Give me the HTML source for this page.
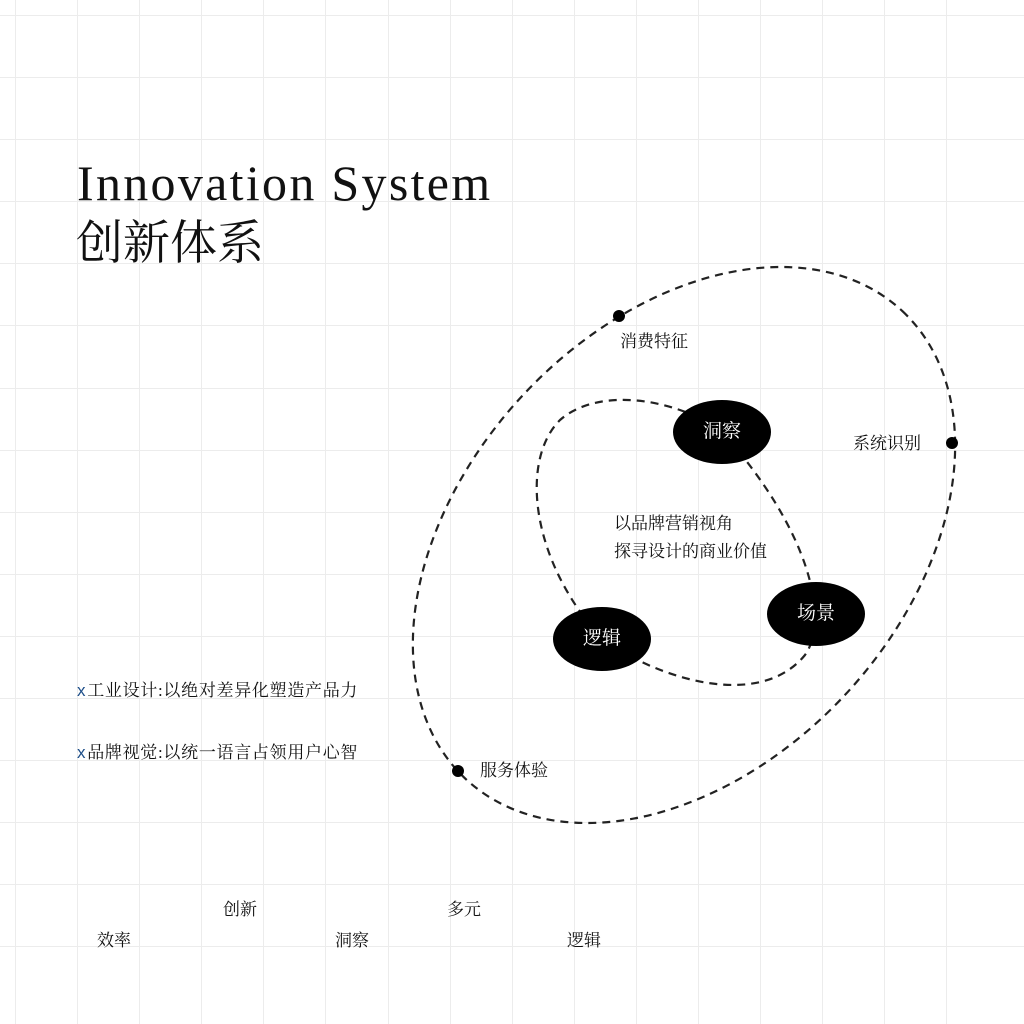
<!DOCTYPE html>
<html><head><meta charset="utf-8"><style>
html,body{margin:0;padding:0;background:#fff;}
body{width:1024px;height:1024px;position:relative;overflow:hidden;font-family:"Liberation Serif","Noto Serif CJK SC",serif;color:#111;}
.t{position:absolute;white-space:nowrap;font-size:17px;line-height:1;}
</style></head><body>
<svg width="1024" height="1024" style="position:absolute;left:0;top:0">
<g stroke="#ececec" stroke-width="1">
<line x1="15.5" y1="0" x2="15.5" y2="1024"/><line x1="77.5" y1="0" x2="77.5" y2="1024"/><line x1="139.5" y1="0" x2="139.5" y2="1024"/><line x1="201.5" y1="0" x2="201.5" y2="1024"/><line x1="263.5" y1="0" x2="263.5" y2="1024"/><line x1="325.5" y1="0" x2="325.5" y2="1024"/><line x1="388.5" y1="0" x2="388.5" y2="1024"/><line x1="450.5" y1="0" x2="450.5" y2="1024"/><line x1="512.5" y1="0" x2="512.5" y2="1024"/><line x1="574.5" y1="0" x2="574.5" y2="1024"/><line x1="636.5" y1="0" x2="636.5" y2="1024"/><line x1="698.5" y1="0" x2="698.5" y2="1024"/><line x1="760.5" y1="0" x2="760.5" y2="1024"/><line x1="822.5" y1="0" x2="822.5" y2="1024"/><line x1="884.5" y1="0" x2="884.5" y2="1024"/><line x1="946.5" y1="0" x2="946.5" y2="1024"/>
<line y1="15.5" x1="0" y2="15.5" x2="1024"/><line y1="77.5" x1="0" y2="77.5" x2="1024"/><line y1="139.5" x1="0" y2="139.5" x2="1024"/><line y1="201.5" x1="0" y2="201.5" x2="1024"/><line y1="263.5" x1="0" y2="263.5" x2="1024"/><line y1="325.5" x1="0" y2="325.5" x2="1024"/><line y1="388.5" x1="0" y2="388.5" x2="1024"/><line y1="450.5" x1="0" y2="450.5" x2="1024"/><line y1="512.5" x1="0" y2="512.5" x2="1024"/><line y1="574.5" x1="0" y2="574.5" x2="1024"/><line y1="636.5" x1="0" y2="636.5" x2="1024"/><line y1="698.5" x1="0" y2="698.5" x2="1024"/><line y1="760.5" x1="0" y2="760.5" x2="1024"/><line y1="822.5" x1="0" y2="822.5" x2="1024"/><line y1="884.5" x1="0" y2="884.5" x2="1024"/><line y1="946.5" x1="0" y2="946.5" x2="1024"/>
</g>
<ellipse cx="684" cy="545" rx="320" ry="220" transform="rotate(-47 684 545)" fill="none" stroke="#222" stroke-width="2.2" stroke-dasharray="8 6"/>
<path d="M 722 432 C 680 400, 600 385, 560 420 C 520 460, 530 560, 602 639 C 660 680, 760 710, 805 655 C 830 620, 810 530, 722 432 Z" fill="none" stroke="#222" stroke-width="2.2" stroke-dasharray="8 6"/>
<ellipse cx="722" cy="432" rx="49" ry="32" fill="#000"/>
<ellipse cx="816" cy="614" rx="49" ry="32" fill="#000"/>
<ellipse cx="602" cy="639" rx="49" ry="32" fill="#000"/>
<circle cx="619" cy="316" r="6" fill="#000"/><circle cx="952" cy="443" r="6" fill="#000"/><circle cx="458" cy="771" r="6" fill="#000"/>
</svg>
<div class="t" style="left:77px;top:158px;font-size:50px;letter-spacing:2.3px;">Innovation System</div>
<div class="t" style="left:76px;top:221px;font-size:47px;">创新体系</div>
<div class="t" style="left:703px;top:422px;color:#fff;font-size:19px;">洞察</div>
<div class="t" style="left:797px;top:604px;color:#fff;font-size:19px;">场景</div>
<div class="t" style="left:583px;top:629px;color:#fff;font-size:19px;">逻辑</div>
<div class="t" style="left:620px;top:333px;">消费特征</div>
<div class="t" style="left:853px;top:435px;">系统识别</div>
<div class="t" style="left:480px;top:762px;">服务体验</div>
<div class="t" style="left:614px;top:515px;">以品牌营销视角</div>
<div class="t" style="left:614px;top:543px;">探寻设计的商业价值</div>
<div class="t" style="left:77px;top:682px;letter-spacing:0.7px;"><span style="color:#1d4e89;font-family:'Liberation Sans',sans-serif;margin-right:1px;">x</span>工业设计:以绝对差异化塑造产品力</div>
<div class="t" style="left:77px;top:744px;letter-spacing:0.7px;"><span style="color:#1d4e89;font-family:'Liberation Sans',sans-serif;margin-right:1px;">x</span>品牌视觉:以统一语言占领用户心智</div>
<div class="t" style="left:97px;top:932px;">效率</div>
<div class="t" style="left:223px;top:901px;">创新</div>
<div class="t" style="left:335px;top:932px;">洞察</div>
<div class="t" style="left:447px;top:901px;">多元</div>
<div class="t" style="left:567px;top:932px;">逻辑</div>
</body></html>
